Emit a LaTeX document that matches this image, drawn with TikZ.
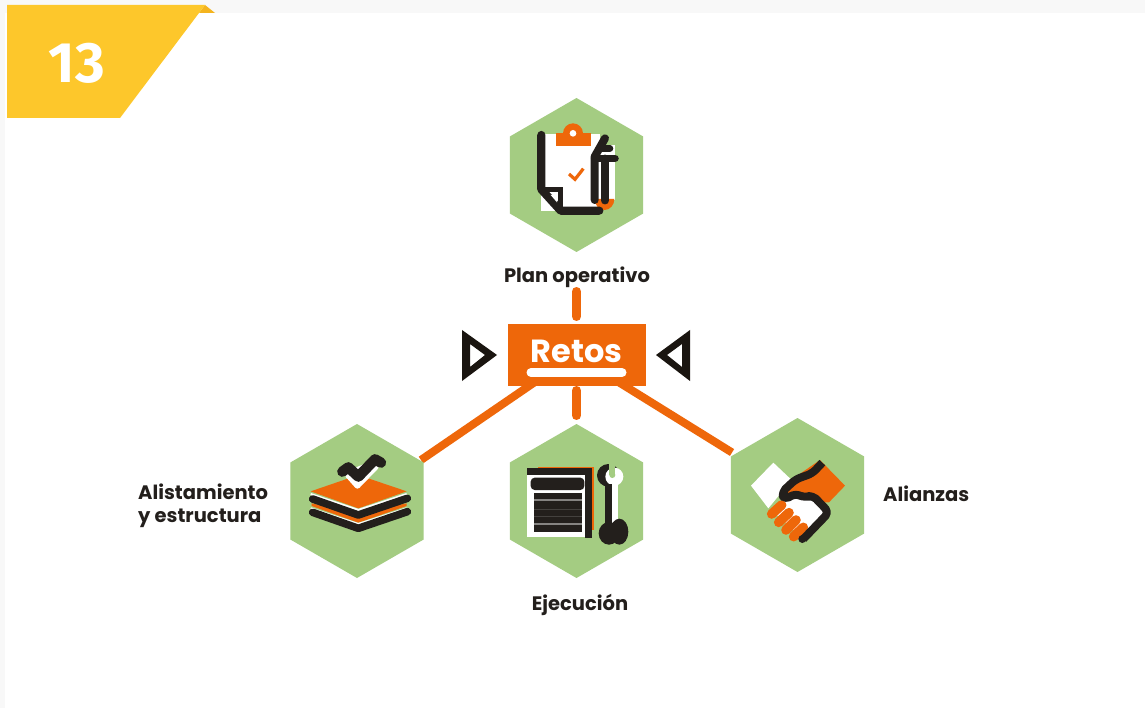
\documentclass[tikz,border=0pt]{standalone}
\usepackage{fontspec}
\setmainfont{Fira Sans}
\newfontfamily\lblfont{Poppins}
\usetikzlibrary{shapes.geometric,calc}
\definecolor{ink}{HTML}{231F1C}
\definecolor{darkink}{HTML}{1A1510}
\definecolor{orangeA}{HTML}{EE670A}
\definecolor{greenA}{HTML}{A4CC82}
\definecolor{yellowA}{HTML}{FDC72B}
\definecolor{yellowB}{HTML}{F4B41E}
\definecolor{pagegrey}{HTML}{F8F8F8}
\pgfdeclarelayer{base}
\pgfdeclarelayer{links}
\pgfsetlayers{base,links,main}
\tikzset{
  hexa/.style={regular polygon,regular polygon sides=6,shape border rotate=30,minimum size=154pt,inner sep=0pt,outer sep=0pt,fill=greenA},
  lbl/.style={font=\fontsize{19.5}{23}\selectfont\lblfont\bfseries,text=ink,inner sep=0pt,align=left},
  shortlink/.style={draw=orangeA,line width=9pt,line cap=round},
  longlink/.style={draw=orangeA,line width=8pt},
  retosbox/.style={fill=orangeA,minimum width=138pt,minimum height=62pt,inner sep=0pt,outer sep=0pt,text=white,font=\fontsize{32}{36}\selectfont\lblfont\bfseries},
  zoomA/.style={x=0.33333pt,y=-0.33333pt},
  bk/.style={draw=ink,line cap=round,line join=round},
}
\begin{document}
\begin{tikzpicture}[x=1pt,y=-1pt]
\useasboundingbox (0,0) rectangle (1145,708);
\begin{pgfonlayer}{base}
\fill[pagegrey] (0,0) rectangle (1145,708);
\fill[white] (5,13) rectangle (1145,708);
\end{pgfonlayer}
% ribbon
\fill[yellowB] (205,5) -- (215,13) -- (199,13) -- cycle;
\fill[yellowA] (7,5) -- (205,5) -- (120,118) -- (7,118) -- cycle;
\node[font=\fontsize{57}{60}\selectfont\bfseries,text=white,inner sep=0pt] (num) at (77,63) {13};
% hexagons
\node[hexa] (hplan) at (576.5,175) {};
\node[hexa] (hali) at (357,501) {};
\node[hexa] (heje) at (576.5,501) {};
\node[hexa] (hall) at (797.5,495) {};
% centre
\node[retosbox] (retos) at (576.5,355) {\raisebox{7pt}{Retos}};
\draw[white,line width=9pt,line cap=round] ([xshift=-45.5pt,yshift=-17.5pt]retos.center) -- ([xshift=45.5pt,yshift=-17.5pt]retos.center);
% connectors
\begin{pgfonlayer}{links}
\draw[shortlink,shorten <=7.5pt,shorten >=39.5pt] (retos.north) -- (hplan.270);
\draw[shortlink,shorten <=4.5pt,shorten >=8.5pt] (retos.south) -- (heje.90);
\draw[longlink] ([xshift=-38.7pt,yshift=6pt]retos.south) -- ([xshift=-2.7pt,yshift=2.5pt]hali.30);
\draw[longlink] ([xshift=38.7pt,yshift=6pt]retos.south) -- ([xshift=1.2pt,yshift=4pt]hall.150);
\end{pgfonlayer}
% triangles
\fill[darkink,even odd rule] (462,330) -- (497,355) -- (462,381) -- cycle (470,344) -- (485,355) -- (470,367) -- cycle;
\fill[darkink,even odd rule] (690,330) -- (656,355) -- (690,381) -- cycle (682,344) -- (667,355) -- (682,367) -- cycle;
% labels
\node[lbl,anchor=center] (lplan) at (577,277) {Plan operativo};
\node[lbl,anchor=center] (leje) at (580,605) {Ejecución};
\node[lbl,anchor=west] (lall) at (883,494) {Alianzas};
\node[lbl,anchor=west] (lali) at (138,506) {Alistamiento\\y estructura};
% icon plan
\begin{scope}[shift={(500,90)},zoomA]
\fill[white] (123,133) rectangle (300,362);
\fill[white] (300,165) rectangle (345,330);
\fill[orangeA] (167,130) rectangle (272,167);
\fill[orangeA] (219,130) circle[radius=30];
\fill[white] (219,130) circle[radius=10];
\draw[orangeA,line width=3.2pt] (207,252) -- (225,268) -- (250,236);
\fill[orangeA] (284,327) arc[start angle=180,end angle=0,x radius=29.5,y radius=33] -- cycle;
\draw[bk,line width=8.2pt] (124,135) -- (124,298) -- (182,362) -- (298,362);
\draw[bk,line width=4.5pt,line cap=butt,line join=miter] (124,298) -- (182,298) -- (182,362);
\fill[white] (152,315) -- (171,315) -- (171,337) -- cycle;
\draw[bk,line width=8pt] (284,330) -- (284,200) -- (315,145);
\draw[bk,line width=7.5pt] (284,205) -- (345,205);
\draw[bk,line width=6.5pt] (300,175) -- (330,175);
\draw[bk,line width=7.5pt] (315,205) -- (315,332);
\end{scope}
% icon alistamiento
\begin{scope}[shift={(280,420)},zoomA]
\fill[orangeA] (92,214) -- (235,165) -- (380,214) -- (235,265) -- cycle;
\draw[white,line width=2pt] (92,222) -- (235,270) -- (380,222);
\fill[orangeA] (95,250) -- (235,280) -- (380,250) -- (380,258) -- (235,308) -- (95,258) -- cycle;
\draw[bk,line width=7.6pt] (98,237) -- (235,285) -- (382,235);
\draw[white,line width=2pt] (92,265) -- (235,312) -- (380,265);
\draw[bk,line width=7.6pt] (98,277) -- (235,325) -- (382,275);
\fill[white,rounded corners=3pt] (192,165) -- (232,210) -- (300,140) -- (280,120) -- (210,150) -- cycle;
\draw[bk,line width=10.4pt] (187,155) -- (205,142) -- (235,170) -- (285,118) -- (303,128);
\end{scope}
% icon ejecucion
\begin{scope}[shift={(500,420)},zoomA]
\fill[orangeA] (115,142) rectangle (283,330);
\fill[ink] (80,143) rectangle (277,165);
\fill[ink] (255,143) rectangle (277,353);
\fill[white] (80,165) rectangle (255,352);
\fill[ink,rounded corners=4pt] (92,173) rectangle (253,210);
\fill[ink] (102,218) rectangle (246,335);
\foreach \yy/\gg in {240/45,268/15,290/15,312/45}
  \draw[white!\gg!ink,line width=1.2pt] (102,\yy) -- (246,\yy);
% wrench
\fill[ink] (325,166) circle[radius=34];
\fill[white] (343,170) circle[radius=27];
\fill[greenA] (328,125) rectangle (346,165);
\fill[greenA] (337,165) circle[radius=9];
\fill[ink] (315,192) rectangle (337,310);
\fill[white] (337,192) rectangle (355,310);
\fill[ink] (327,340) ellipse[x radius=31,y radius=34];
\fill[ink] (358,335) ellipse[x radius=27,y radius=39];
\end{scope}
% icon alianzas
\begin{scope}[shift={(725,415)},zoomA]
\fill[white] (78,212) -- (145,143) -- (200,195) -- (130,280) -- cycle;
\fill[orangeA] (285,135) -- (360,212) -- (312,262) -- (300,262) -- (170,245) -- (205,190) -- cycle;
\fill[white] (175,258) -- (210,240) -- (240,250) -- (262,240) -- (310,292) -- (235,372) -- (140,285) -- cycle;
\foreach \xa/\ya/\xb/\yb in {140/297/170/270,161/322/192/293,183/345/213/315,206/365/235/337}
  \draw[orangeA,line width=9.6pt,line cap=round] (\xa,\ya) -- (\xb,\yb);
\draw[bk,line width=8pt,line cap=butt,rounded corners=5pt] (292,143) -- (262,175) -- (212,193) -- (170,232) -- (178,255) -- (210,236) -- (240,248) -- (262,240) -- (312,292) -- (235,372);
\fill[ink] (232,372) circle[radius=12];
\end{scope}
\end{tikzpicture}
\end{document}
